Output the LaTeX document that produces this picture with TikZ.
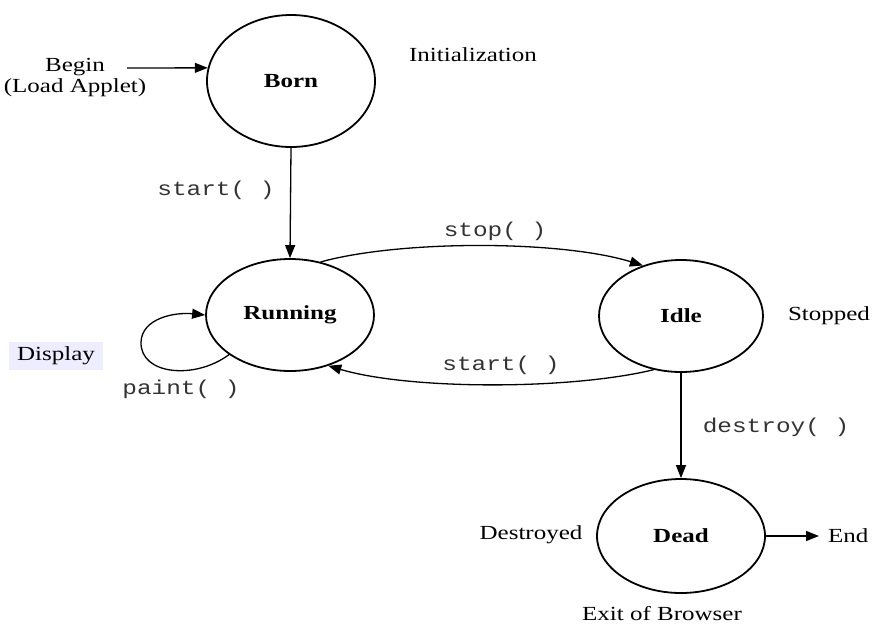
\documentclass[tikz,border=0pt]{standalone}
\usepackage{fontspec}
\setmainfont[FakeStretch=1.25]{Liberation Serif}
\setmonofont[FakeStretch=1.22]{Liberation Mono}
\usetikzlibrary{shapes.geometric,arrows.meta}

\begin{document}
\begin{tikzpicture}[x=1pt,y=-1pt,
  every node/.style={font=\fontsize{20}{22}\selectfont},
  state/.style={ellipse,draw,line width=1.8pt,inner sep=0pt,
    minimum width=168pt,minimum height=112pt,
    font=\fontsize{20}{22}\selectfont\bfseries},
  lbl/.style={inner sep=1pt},
  code/.style={inner sep=1pt,text=black!80,font=\fontsize{20}{22}\selectfont\ttfamily},
  arr/.style={line width=1.3pt,-{Triangle[length=13pt,width=10pt]}}]

\useasboundingbox (0,0) rectangle (877,625);

% states of the applet
\node[state,minimum height=132pt] (born) at (291,81) {Born};
\node[state] (running) at (290,315) {Running};
\node[state,minimum width=164pt] (idle) at (681,316) {Idle};
\node[state,minimum height=114pt] (dead) at (681,536) {Dead};

% side labels
\node[lbl,align=center,font=\fontsize{20}{21}\selectfont] (begin) at (75,78) {Begin\\(Load Applet)};
\coordinate (beginpt) at (127,68);
\node[lbl] (init) at (473,55) {Initialization};
\node[lbl,fill=blue!7,inner xsep=8pt,inner ysep=5pt] (display) at (56,356) {Display};
\node[lbl] (stopped) at (829,316) {Stopped};
\node[lbl] (destroyed) at (531,535) {Destroyed};
\node[lbl,anchor=west] (endtxt) at (827,536) {End};
\node[lbl] (exit) at (662,614) {Exit of Browser};

% method labels
\node[code] (startA) at (216,190) {start( )};
\node[code] (stopB) at (495,231) {stop( )};
\node[code] (startB) at (501,365) {start( )};
\node[code] (paint) at (181,389) {paint( )};
\node[code] (destroy) at (776,427) {destroy( )};

% transitions
\draw[arr] (beginpt) -- (born.171);
\draw[arr] (born.south) -- (running.north);
\draw[arr] (running.60) .. controls (400,240) and (560,240) .. (idle.127);
\draw[arr] (idle.243) .. controls (570,390) and (410,390) .. (running.307);
\draw[arr] (running.213) .. controls (195,380) and (140,375) .. (141,342)
  .. controls (142,318) and (175,312) .. (running.180);
\draw[arr] (idle.south) -- (dead.north);
\draw[arr] (dead.east) -- ([xshift=-8pt]endtxt.west);
\end{tikzpicture}
\end{document}
